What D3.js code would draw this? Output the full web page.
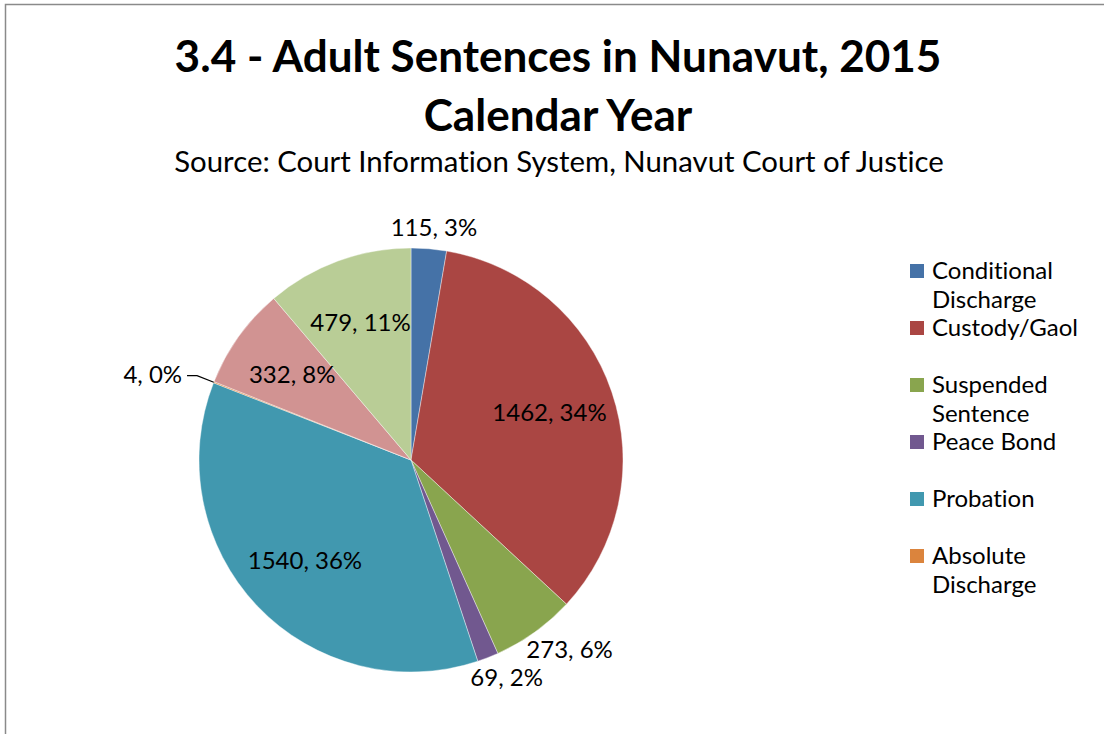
<!DOCTYPE html>
<html><head><meta charset="utf-8">
<script src="https://cdn.jsdelivr.net/npm/d3@7"></script>
<style>body{margin:0;background:#fff}svg{display:block}text{font-variant-ligatures:none;font-feature-settings:"liga" 0,"clig" 0}</style>
</head><body>
<svg id="c" width="1104" height="734"></svg>
<script>
const categories = ["Conditional Discharge","Custody/Gaol","Suspended Sentence","Peace Bond","Probation","Absolute Discharge","Conditional Sentence","Fine"];
const values = [115,1462,273,69,1540,4,332,479];
const colors = ["#4572A7","#AA4643","#89A54E","#71588F","#4198AF","#DB843D","#D19392","#B9CD96"];
const legendShown = 6;
const titleLines = ["3.4 - Adult Sentences in Nunavut, 2015","Calendar Year"];
const subtitle = "Source: Court Information System, Nunavut Court of Justice";

const FONT = "Lato, 'Open Sans', sans-serif";
const svg = d3.select("#c");
svg.append("rect").attr("x",5.5).attr("y",4.5).attr("width",1200).attr("height",800)
  .attr("fill","#fff").attr("stroke","#8a8a8a").attr("stroke-width",1.5);

function fitSize(text, weight, target){
  const t = svg.append("text").attr("font-family",FONT).attr("font-weight",weight).attr("font-size",100).text(text);
  const w = t.node().getComputedTextLength(); t.remove();
  return 100*target/w;
}
const tSize = fitSize(titleLines[0],"bold",767);
svg.append("text").attr("x",558).attr("y",72).attr("text-anchor","middle").attr("font-family",FONT)
  .attr("font-weight","bold").attr("font-size",tSize).attr("fill","#000").text(titleLines[0]);
svg.append("text").attr("x",558).attr("y",131).attr("text-anchor","middle").attr("font-family",FONT)
  .attr("font-weight","bold").attr("font-size",tSize).attr("fill","#000").text(titleLines[1]);
const sSize = fitSize(subtitle,"normal",770);
svg.append("text").attr("x",559).attr("y",172).attr("text-anchor","middle").attr("font-family",FONT)
  .attr("font-size",sSize).attr("fill","#000").text(subtitle);

const fs = fitSize("Custody/Gaol","normal",146);

const cx = 411, cy = 460, R = 212;
const total = d3.sum(values);
const data = categories.map((c,i)=>({cat:c,value:values[i],color:colors[i]}));
const pie = d3.pie().value(d=>d.value).sort(null);
const arcs = pie(data);
const arc = d3.arc().innerRadius(0).outerRadius(R);
const g = svg.append("g").attr("transform",`translate(${cx},${cy})`);
g.selectAll("path").data(arcs).join("path").attr("d",arc).attr("fill",d=>d.data.color)
  .attr("stroke","#fff").attr("stroke-width",0.4);

const fmt = d => `${d.data.value}, ${Math.round(d.data.value/total*100)}%`;
arcs.forEach(d=>{
  const a = (d.startAngle+d.endAngle)/2;
  const frac = d.data.value/total;
  const s = Math.sin(a), c = Math.cos(a);
  if (frac < 0.01) {
    const p0 = [R*s, -R*c], p1 = [(R+18)*s, -(R+18)*c];
    const p2 = [p1[0] + (s<0?-10:10), p1[1]];
    g.append("path").attr("d",`M${p0}L${p1}L${p2}`).attr("fill","none").attr("stroke","#000").attr("stroke-width",1.2);
    g.append("text").attr("x",p2[0]+(s<0?-5:5)).attr("y",p2[1]).attr("dy","0.3em")
      .attr("text-anchor",s<0?"end":"start").attr("font-family",FONT).attr("font-size",fs).text(fmt(d));
  } else if (frac < 0.07) {
    const t = g.append("text").attr("font-family",FONT).attr("font-size",fs).attr("text-anchor","middle").text(fmt(d));
    const hw = t.node().getComputedTextLength()/2, hh = fs*0.55;
    const rr = R+8;
    t.attr("x", rr*s + hw*s*1.2).attr("y", -rr*c - hh*c).attr("dy","0.35em");
  } else {
    const rr = R*0.69;
    g.append("text").attr("x",rr*s).attr("y",-rr*c).attr("dy","0.35em").attr("text-anchor","middle")
      .attr("font-family",FONT).attr("font-size",fs).text(fmt(d));
  }
});

// legend
const lg = svg.append("g");
const lx = 910, ly0 = 271, step = 57, lineH = 29, maxW = 155;
function wrap(str){
  const words = str.split(" "); const lines=[]; let cur="";
  const t = svg.append("text").attr("font-family",FONT).attr("font-size",fs);
  words.forEach(w=>{
    const test = cur? cur+" "+w : w;
    t.text(test);
    if (t.node().getComputedTextLength() > maxW && cur){ lines.push(cur); cur=w; } else cur=test;
  });
  lines.push(cur); t.remove(); return lines;
}
data.slice(0,legendShown).forEach((d,i)=>{
  const y = ly0 + i*step;
  lg.append("rect").attr("x",lx).attr("y",y-7).attr("width",14).attr("height",14).attr("fill",d.color);
  const t = lg.append("text").attr("x",lx+22).attr("y",y).attr("dy","0.35em")
    .attr("font-family",FONT).attr("font-size",fs).attr("fill","#000");
  wrap(d.cat).forEach((ln,j)=>{
    t.append("tspan").attr("x",lx+22).attr("y",y+j*lineH).attr("dy","0.35em").text(ln);
  });
});
</script>
</body></html>
